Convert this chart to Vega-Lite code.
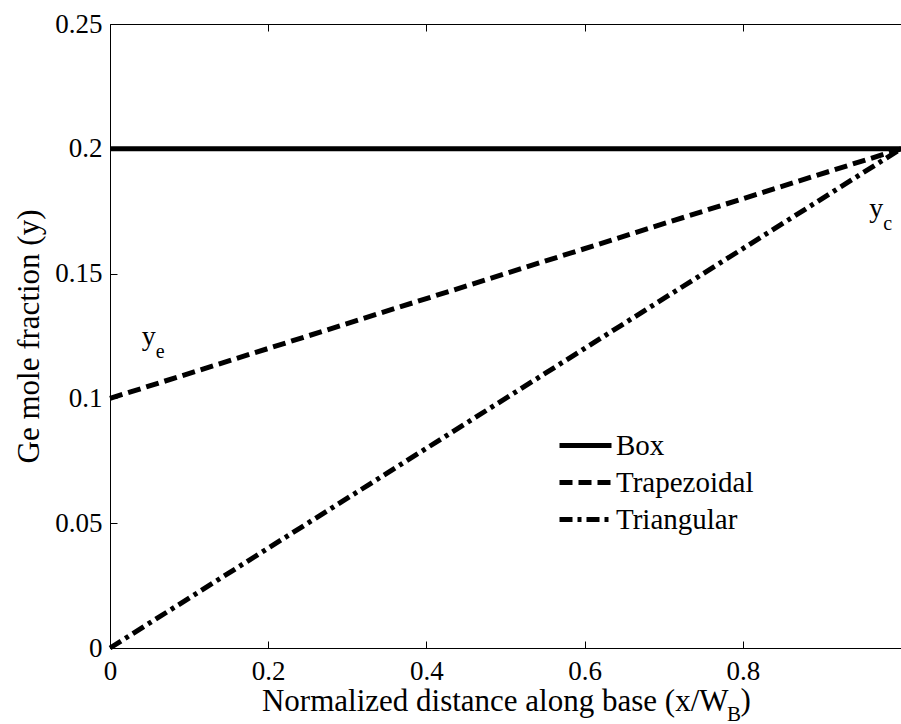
{
  "$schema": "https://vega.github.io/schema/vega-lite/v6.json",
  "width": 791,
  "height": 624,
  "autosize": {"type": "none"},
  "padding": {"left": 110, "top": 24, "right": 0, "bottom": 76},
  "background": "white",
  "config": {
    "font": "Liberation Serif",
    "view": {"stroke": null},
    "axis": {"grid": false, "domainColor": "black", "domainWidth": 1, "tickColor": "black", "tickWidth": 1, "labelColor": "black", "titleColor": "black", "labelFont": "Liberation Serif", "titleFont": "Liberation Serif", "titleFontWeight": "normal"}
  },
  "datasets": {
    "profiles": [
      {"series": "Box", "x": 0, "y": 0.2},
      {"series": "Box", "x": 1, "y": 0.2},
      {"series": "Trapezoidal", "x": 0, "y": 0.1},
      {"series": "Trapezoidal", "x": 1, "y": 0.2},
      {"series": "Triangular", "x": 0, "y": 0},
      {"series": "Triangular", "x": 1, "y": 0.2}
    ],
    "annotations": [
      {"x": 0.040, "y": 0.1215, "main": "y", "sub": "e"},
      {"x": 0.960, "y": 0.1727, "main": "y", "sub": "c"}
    ],
    "titleSub": [{"x": 0.780, "y": 0, "t": "B"}],
    "titleClose": [{"x": 0.797, "y": 0, "t": ")"}]
  },
  "resolve": {"axis": {"x": "independent"}},
  "layer": [
    {
      "data": {"name": "profiles"},
      "mark": {"type": "line", "color": "black", "strokeWidth": 5, "strokeCap": "butt"},
      "encoding": {
        "x": {
          "field": "x", "type": "quantitative",
          "scale": {"domain": [0, 1], "nice": false, "zero": false},
          "axis": {
            "orient": "bottom", "values": [0, 0.2, 0.4, 0.6, 0.8], "format": "~g",
            "labelFontSize": 27, "tickSize": -7, "labelPadding": 17,
            "labelFlush": false, "labelOverlap": false,
            "title": "Normalized distance along base (x/W",
            "titleFontSize": 31, "titleX": 618, "titleY": 62,
            "titleAlign": "right", "titleBaseline": "alphabetic"
          }
        },
        "y": {
          "field": "y", "type": "quantitative",
          "scale": {"domain": [0, 0.25], "nice": false},
          "axis": {
            "values": [0, 0.05, 0.1, 0.15, 0.2, 0.25], "format": "~g",
            "labelFontSize": 27, "tickSize": -7, "labelPadding": 15,
            "labelFlush": false, "labelOverlap": false,
            "title": "Ge mole fraction (y)",
            "titleFontSize": 31, "titleX": -72, "titleY": 312,
            "titleAngle": 270, "titleAlign": "center", "titleBaseline": "alphabetic"
          }
        },
        "detail": {"field": "series"},
        "strokeDash": {
          "field": "series", "type": "nominal",
          "scale": {"domain": ["Box", "Trapezoidal", "Triangular"], "range": [[1, 0], [13, 6], [13, 5, 4, 5]]},
          "legend": {
            "orient": "none", "legendX": 460, "legendY": 406,
            "title": null, "padding": 0,
            "symbolType": "M-2,0H2", "symbolSize": 676, "symbolStrokeWidth": 5,
            "symbolStrokeColor": "black", "symbolFillColor": "transparent",
            "labelFontSize": 29, "labelFont": "Liberation Serif", "labelColor": "black",
            "labelOffset": 15, "rowPadding": 6
          }
        }
      }
    },
    {
      "data": {"name": "profiles"},
      "mark": {"type": "rule", "opacity": 0},
      "encoding": {
        "x": {
          "field": "x", "type": "quantitative",
          "scale": {"domain": [0, 1], "nice": false, "zero": false},
          "axis": {"orient": "top", "values": [0, 0.2, 0.4, 0.6, 0.8], "labels": false, "tickSize": -7, "title": null}
        }
      }
    },
    {
      "data": {"name": "annotations"},
      "mark": {"type": "text", "fontSize": 28, "align": "left", "baseline": "alphabetic", "color": "black", "font": "Liberation Serif"},
      "encoding": {
        "x": {"field": "x", "type": "quantitative", "axis": null},
        "y": {"field": "y", "type": "quantitative"},
        "text": {"field": "main"}
      }
    },
    {
      "data": {"name": "annotations"},
      "mark": {"type": "text", "fontSize": 20, "align": "left", "baseline": "alphabetic", "dx": 14, "dy": 13, "color": "black", "font": "Liberation Serif"},
      "encoding": {
        "x": {"field": "x", "type": "quantitative", "axis": null},
        "y": {"field": "y", "type": "quantitative"},
        "text": {"field": "sub"}
      }
    },
    {
      "data": {"name": "titleSub"},
      "mark": {"type": "text", "fontSize": 21, "align": "left", "baseline": "alphabetic", "dy": 73, "color": "black", "font": "Liberation Serif"},
      "encoding": {
        "x": {"field": "x", "type": "quantitative", "axis": null},
        "y": {"field": "y", "type": "quantitative"},
        "text": {"field": "t"}
      }
    },
    {
      "data": {"name": "titleClose"},
      "mark": {"type": "text", "fontSize": 31, "align": "left", "baseline": "alphabetic", "dy": 62, "color": "black", "font": "Liberation Serif"},
      "encoding": {
        "x": {"field": "x", "type": "quantitative", "axis": null},
        "y": {"field": "y", "type": "quantitative"},
        "text": {"field": "t"}
      }
    }
  ]
}
